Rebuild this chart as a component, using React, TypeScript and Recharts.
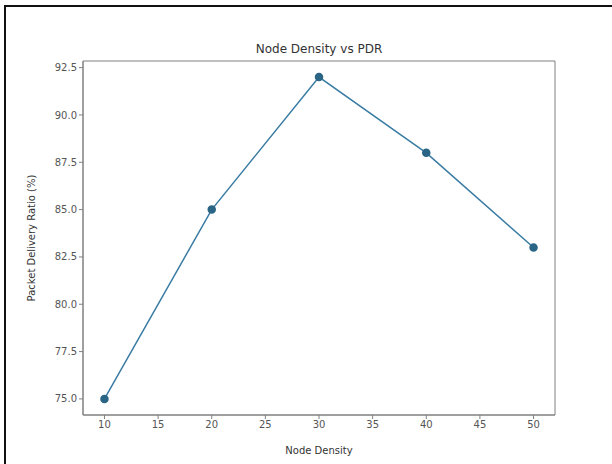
import React from "react";
import { LineChart, Line, XAxis, YAxis, ReferenceArea } from "recharts";

const nodeDensity = [10, 20, 30, 40, 50];
const pdrValues = [75, 85, 92, 88, 83];
const xTicks = [10, 15, 20, 25, 30, 35, 40, 45, 50];
const yTicks = [75, 77.5, 80, 82.5, 85, 87.5, 90, 92.5];

const data = nodeDensity.map((x, i) => ({ x, y: pdrValues[i] }));

const FONT = "DejaVu Sans, sans-serif";
const AXIS_COLOR = "#808080";
const TEXT_COLOR = "#555";
const LINE_COLOR = "#3a7ca3";

export default function App() {
  return (
    <div
      style={{
        position: "absolute",
        left: 0,
        top: 0,
        width: 612,
        height: 464,
        background: "#fff",
        fontFamily: FONT,
      }}
    >
      <div
        style={{
          position: "absolute",
          left: 4,
          top: 5,
          width: 612,
          height: 464,
          borderLeft: "2px solid #111",
          borderTop: "2px solid #111",
        }}
      />
      <div
        style={{
          position: "absolute",
          left: 83,
          width: 472,
          top: 42,
          textAlign: "center",
          fontSize: 12,
          color: "#333",
        }}
      >
        Node Density vs PDR
      </div>
      <LineChart
        width={612}
        height={464}
        data={data}
        margin={{ top: 61, right: 57, bottom: 9, left: 23 }}
        style={{ position: "absolute", left: 0, top: 0 }}
      >
        <XAxis
          dataKey="x"
          type="number"
          domain={[8, 52]}
          ticks={xTicks}
          allowDataOverflow
          stroke={AXIS_COLOR}
          tickLine={{ stroke: AXIS_COLOR }}
          tickSize={4}
          height={40}
          tick={{ fill: TEXT_COLOR, fontSize: 10, fontFamily: FONT }}
          label={{
            value: "Node Density",
            position: "insideBottom",
            offset: 1,
            fill: "#333",
            fontSize: 10,
            fontFamily: FONT,
          }}
        />
        <YAxis
          type="number"
          domain={[74.15, 92.85]}
          ticks={yTicks}
          allowDataOverflow
          stroke={AXIS_COLOR}
          tickLine={{ stroke: AXIS_COLOR }}
          tickSize={4}
          width={60}
          tickFormatter={(v: number) => v.toFixed(1)}
          tick={{ fill: TEXT_COLOR, fontSize: 10, fontFamily: FONT }}
          label={{
            value: "Packet Delivery Ratio (%)",
            angle: -90,
            position: "insideLeft",
            offset: 8,
            style: { textAnchor: "middle" },
            fill: "#333",
            fontSize: 10,
            fontFamily: FONT,
          }}
        />
        <ReferenceArea
          x1={8}
          x2={52}
          y1={74.15}
          y2={92.85}
          fill="none"
          stroke={AXIS_COLOR}
          strokeWidth={1}
          ifOverflow="visible"
        />
        <Line
          dataKey="y"
          stroke={LINE_COLOR}
          strokeWidth={1.5}
          dot={{ r: 3.5, fill: "#2a6585", stroke: "#2a6585" }}
          isAnimationActive={false}
        />
      </LineChart>
    </div>
  );
}
